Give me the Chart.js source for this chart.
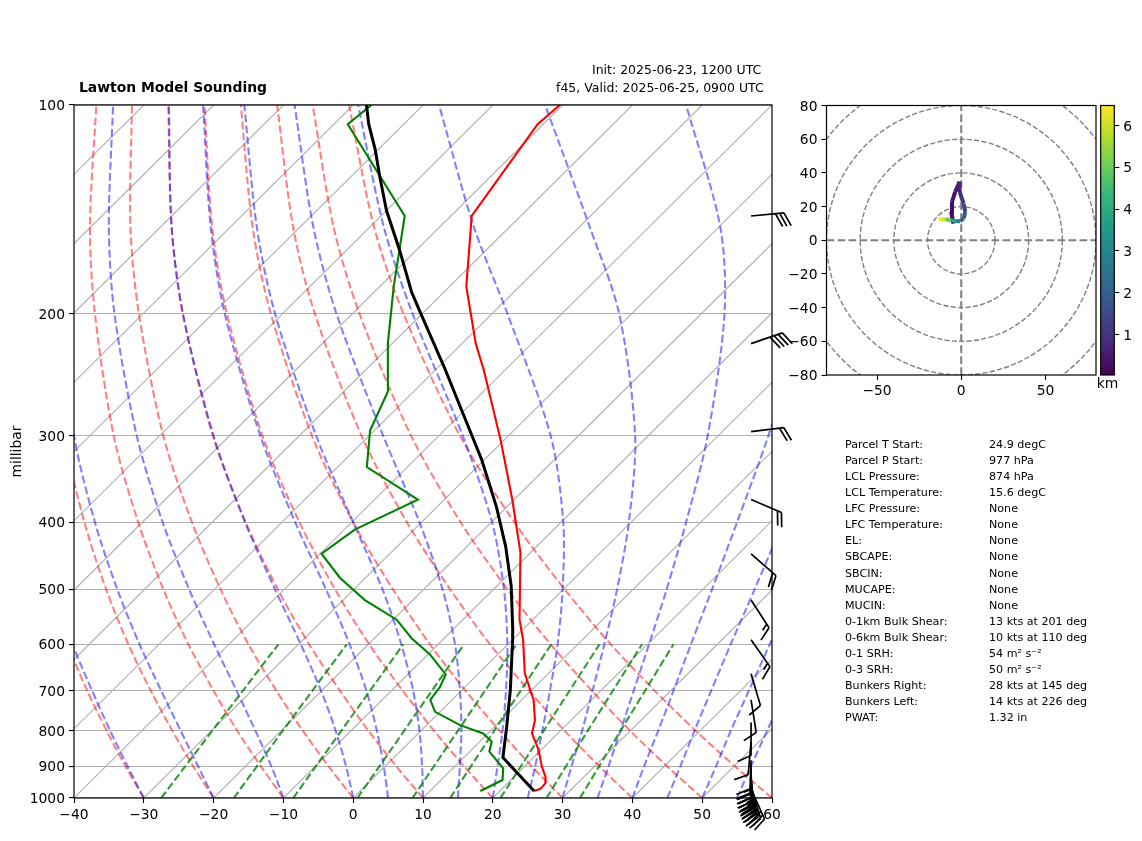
<!DOCTYPE html>
<html>
<head>
<meta charset="utf-8">
<script src="https://cdn.jsdelivr.net/npm/chart.js@4"></script>
<style>
  html, body { margin: 0; background: #fff; }
  body { width: 1142px; height: 841px; position: relative; overflow: hidden; font-family: "DejaVu Sans"; color: #000; }
  canvas { position: absolute; }
  .txt { position: absolute; white-space: pre; line-height: 1; }
</style>
</head>
<body>
<canvas id="skewChart" width="1142" height="841" style="left:0;top:0"></canvas>
<canvas id="hodoChart" width="320" height="310" style="left:780px;top:90px"></canvas>
<canvas id="barChart" width="47" height="300" style="left:1095px;top:95px"></canvas>
<div class="txt" style="left:79px;top:80.5px;font-size:13.89px;font-weight:bold">Lawton Model Sounding</div>
<div class="txt" style="left:592px;top:64px;font-size:12.5px">Init: 2025-06-23, 1200 UTC</div>
<div class="txt" style="left:556px;top:82px;font-size:12.5px">f45, Valid: 2025-06-25, 0900 UTC</div>
<div id="stats"></div>

<script>
// temperature profile, degC at hPa
const tempP = [100, 106.6, 144.6, 182.8, 221, 241, 304, 371.5, 442, 553, 591, 661, 722, 772, 807, 852, 901, 932, 952, 970, 977];
const tempC = [-70.4, -70.8, -67.0, -57.6, -48.0, -43.1, -30.6, -20.2, -11.5, -1.9, 1.5, 6.6, 11.7, 14.8, 16.3, 19.6, 22.5, 24.5, 25.4, 25.5, 24.9];

// dewpoint profile
const dewP = [100, 106.6, 144.6, 182.8, 221, 259, 295, 333, 371, 410, 444, 481, 518, 553, 588, 620, 663, 691, 722, 751, 785, 807, 829, 857, 906, 942, 977];
const dewC = [-97.4, -98.0, -76.6, -68.0, -60.6, -53.7, -50.6, -45.8, -33.8, -38.5, -39.8, -33.7, -26.9, -19.5, -14.7, -9.8, -4.6, -3.6, -3.1, -0.7, 4.8, 9.3, 11.7, 12.8, 17.2, 18.8, 17.2];

// parcel profile
const parcelP = [100, 106.6, 116, 127, 142, 162, 186, 201, 241, 279, 325, 380, 434, 495, 572, 591, 698, 789, 874, 977];
const parcelC = [-98.1, -95.0, -90.4, -85.8, -80.0, -72.4, -64.7, -59.9, -48.6, -39.7, -30.4, -21.5, -14.4, -7.9, -1.4, 0.0, 6.9, 11.7, 15.6, 24.9];

// background lines
const isotherms = [-130, -120, -110, -100, -90, -80, -70, -60, -50, -40, -30, -20, -10, 0, 10, 20, 30, 40, 50, 60];
const adiabatLevels = [1000, 900, 800, 700, 600, 500, 400, 300, 200, 150, 100];
const dryAdiabats = [
  [-30, -37.2, -45.0, -53.6, -63.1, -73.7, -86.0, -100.8, -119.6, -131.7, -147.2],
  [-20, -27.5, -35.6, -44.5, -54.4, -65.5, -78.3, -93.7, -113.3, -125.9, -142.0],
  [-10, -17.8, -26.3, -35.5, -45.8, -57.3, -70.6, -86.6, -106.9, -120.1, -136.8],
  [0, -8.1, -16.9, -26.5, -37.2, -49.1, -62.9, -79.5, -100.6, -114.3, -131.7],
  [10, 1.6, -7.5, -17.4, -28.5, -40.9, -55.2, -72.4, -94.3, -108.4, -126.5],
  [20, 11.3, 1.9, -8.4, -19.9, -32.7, -47.5, -65.3, -88.0, -102.6, -121.3],
  [30, 21.0, 11.3, 0.6, -11.2, -24.4, -39.8, -58.2, -81.7, -96.8, -116.1],
  [40, 30.7, 20.6, 9.7, -2.6, -16.2, -32.1, -51.1, -75.4, -91.0, -110.9],
  [50, 40.4, 30.0, 18.7, 6.1, -8.0, -24.4, -44.0, -69.0, -85.2, -105.8],
  [60, 50.1, 39.4, 27.7, 14.7, 0.2, -16.7, -37.0, -62.7, -79.4, -100.6]
];
const moistAdiabats = [
  [-30, -36.9, -44.5, -52.9, -62.4, -73.0, -85.4, -100.2, -119.1, -131.3, -146.8],
  [-20, -26.8, -34.4, -43.0, -52.8, -63.9, -76.8, -92.3, -112.0, -124.7, -141.0],
  [-10, -16.3, -23.7, -32.2, -42.1, -53.6, -67.1, -83.3, -104.1, -117.4, -134.4],
  [0, -5.6, -12.2, -20.1, -29.7, -41.3, -55.3, -72.3, -94.3, -108.4, -126.4],
  [5, -0.2, -6.3, -13.6, -22.7, -34.0, -48.1, -65.6, -88.3, -102.8, -121.5],
  [10, 5.3, -0.2, -6.9, -15.3, -25.9, -39.8, -57.6, -81.1, -96.2, -115.6],
  [15, 10.7, 5.8, -0.2, -7.6, -17.3, -30.3, -48.0, -72.3, -88.1, -108.4],
  [20, 16.1, 11.7, 6.4, -0.1, -8.5, -19.9, -36.6, -61.4, -78.0, -99.3],
  [25, 21.5, 17.4, 12.7, 7.1, -0.1, -9.7, -24.0, -47.8, -65.1, -87.7],
  [30, 26.7, 23.1, 18.8, 13.8, 7.7, -0.3, -11.9, -31.8, -48.5, -72.5],
  [35, 32.0, 28.6, 24.7, 20.2, 14.8, 7.9, -1.5, -16.7, -29.8, -52.3],
  [40, 37.1, 34.0, 30.4, 26.2, 21.3, 15.2, 7.2, -4.8, -14.2, -30.2],
  [45, 42.3, 39.2, 35.8, 31.9, 27.4, 21.8, 14.6, 4.5, -3.0, -14.3],
  [50, 47.4, 44.4, 41.2, 37.5, 33.1, 27.9, 21.3, 12.0, 5.6, -3.6],
  [55, 52.4, 49.6, 46.4, 42.8, 38.6, 33.6, 27.3, 18.6, 12.7, 4.4],
  [60, 57.5, 54.7, 51.6, 48.0, 43.9, 39.0, 32.9, 24.6, 18.9, 11.1]
];
const mixingLevels = [1000, 800, 600];
const mixingLines = [
  [-27.5, -29.9, -32.9],
  [-17.1, -19.8, -23.1],
  [-8.6, -11.4, -15.0],
  [0.6, -2.4, -6.3],
  [8.5, 5.3, 1.2],
  [13.9, 10.5, 6.2],
  [21.1, 17.6, 13.1],
  [27.7, 23.9, 19.2],
  [32.5, 28.6, 23.7]
];

// axis ticks
const tempTicks = [-40, -30, -20, -10, 0, 10, 20, 30, 40, 50, 60];
const pressTicks = [100, 200, 300, 400, 500, 600, 700, 800, 900, 1000];

// wind barbs
const windP = [144.6, 221, 296, 371, 444.5, 518, 591, 662, 722, 778, 830, 882, 896, 908, 920, 930, 939, 948, 958, 964, 970];
const windDir = [84.5, 71, 83, 113, 131, 147, 145, 163.5, 171, 180, 185, 182, 181, 180, 178, 176, 174, 172, 168, 163, 156];
const windKts = [30, 40, 20, 20, 20, 15, 15, 10, 10, 10, 10, 20, 25, 30, 30, 30, 35, 35, 35, 30, 30];
const windAxisX = 57;

// hodograph
const hodoU = [-4.6, -6.0, -5.5, -3.6, -1.0, -1.0, 1.4, 2.4, 1.4, -0.6, -3.6, -6.5, -9.5, -11.5, -13.5];
const hodoV = [9.9, 16.8, 22.8, 28.7, 34.7, 28.7, 21.8, 16.8, 12.9, 11.3, 11.5, 11.9, 12.5, 12.5, 12.5];
const hodoKm = [0.03, 0.15, 0.25, 0.35, 0.5, 0.7, 1.0, 1.3, 1.7, 2.2, 3.0, 3.8, 5.0, 6.0, 6.48];
const ringRadii = [20, 40, 60, 80, 100];
const hodoTicksX = [-50, 0, 50];
const hodoTicksY = [-80, -60, -40, -20, 0, 20, 40, 60, 80];
const barTicks = [1, 2, 3, 4, 5, 6];
const kmMin = 0.03, kmMax = 6.48;
const viridis = ['#440154', '#482878', '#3e4989', '#31688e', '#26828e', '#1f9e89', '#35b779', '#6ece58', '#b5de2b', '#fde725'];

// stats table
const statLabels = ['Parcel T Start:', 'Parcel P Start:', 'LCL Pressure:', 'LCL Temperature:', 'LFC Pressure:', 'LFC Temperature:', 'EL:', 'SBCAPE:', 'SBCIN:', 'MUCAPE:', 'MUCIN:', '0-1km Bulk Shear:', '0-6km Bulk Shear:', '0-1 SRH:', '0-3 SRH:', 'Bunkers Right:', 'Bunkers Left:', 'PWAT:'];
const statValues = ['24.9 degC', '977 hPa', '874 hPa', '15.6 degC', 'None', 'None', 'None', 'None', 'None', 'None', 'None', '13 kts at 201 deg', '10 kts at 110 deg', '54 m\u00b2 s\u207b\u00b2', '50 m\u00b2 s\u207b\u00b2', '28 kts at 145 deg', '14 kts at 226 deg', '1.32 in'];

const statsBox = document.getElementById('stats');
statLabels.forEach((label, i) => {
  const top = 439 + i * 16.07;
  statsBox.insertAdjacentHTML('beforeend',
    `<div class="txt" style="left:845px;top:${top}px;font-size:11.11px">${label}</div>` +
    `<div class="txt" style="left:989px;top:${top}px;font-size:11.11px">${statValues[i]}</div>`);
});

Chart.defaults.font.family = '"DejaVu Sans"';
Chart.defaults.font.size = 13.89;
Chart.defaults.color = '#000';
Chart.defaults.animation = false;

// 45 degree skew: one decade of pressure shifts x by 100 degC
const skewX = (t, p) => t + 100 * Math.log10(1000 / p);
const minusSign = v => String(v).replace('-', '\u2212');
const profilePoints = (temps, levels) => temps.map((t, i) => ({ x: skewX(t, levels[i]), y: levels[i] }));

function line(data, color, width, dash, tension) {
  return { data, borderColor: color, borderWidth: width, borderDash: dash || [], tension: tension || 0, showLine: true, pointRadius: 0, borderJoinStyle: 'miter' };
}

const skewSets = [
  line(profilePoints(parcelC, parcelP), '#000', 3),
  line(profilePoints(tempC, tempP), '#f00', 2.1),
  line(profilePoints(dewC, dewP), '#008000', 2.1),
  ...mixingLines.map(r => line(profilePoints(r, mixingLevels), 'rgba(0,128,0,0.8)', 2.08, [7.7, 3.3])),
  ...moistAdiabats.map(r => line(profilePoints(r, adiabatLevels), 'rgba(0,0,255,0.5)', 2.08, [7.7, 3.3], 0.3)),
  ...dryAdiabats.map(r => line(profilePoints(r, adiabatLevels), 'rgba(255,0,0,0.5)', 2.08, [7.7, 3.3], 0.3)),
  ...isotherms.map(t => line(profilePoints([t, t], [1000, 100]), '#b0b0b0', 1.1))
];

const frame = {
  id: 'frame',
  afterDatasetsDraw(chart) {
    const a = chart.chartArea, c = chart.ctx;
    c.save();
    c.strokeStyle = '#000';
    c.lineWidth = 1.2;
    c.strokeRect(a.left, a.top, a.right - a.left, a.bottom - a.top);
    c.restore();
  }
};

const barbs = {
  id: 'barbs',
  afterDraw(chart) {
    const c = chart.ctx, sx = chart.scales.x, sy = chart.scales.y;
    const staff = 33, along = 6, across = 13.5, gap = 4.3;
    c.save();
    c.strokeStyle = '#000';
    c.lineWidth = 1.7;
    windP.forEach((p, i) => {
      const rad = windDir[i] * Math.PI / 180;
      const ex = Math.sin(rad), ey = -Math.cos(rad);
      const nx = -ey, ny = ex;
      const tipX = sx.getPixelForValue(windAxisX), tipY = sy.getPixelForValue(p);
      let px = tipX + ex * staff, py = tipY + ey * staff;
      c.beginPath();
      c.moveTo(tipX, tipY);
      c.lineTo(px, py);
      let left = windKts[i];
      while (left >= 5) {
        const k = left >= 10 ? 1 : 0.5;
        c.moveTo(px, py);
        c.lineTo(px + (nx * across + ex * along) * k, py + (ny * across + ey * along) * k);
        px -= ex * gap;
        py -= ey * gap;
        left -= k * 10;
      }
      c.stroke();
    });
    c.restore();
  }
};

new Chart(document.getElementById('skewChart'), {
  type: 'scatter',
  data: { datasets: skewSets },
  options: {
    responsive: false,
    devicePixelRatio: 1,
    layout: { padding: { top: 105, right: 370, left: 0, bottom: 0 } },
    plugins: { legend: { display: false }, tooltip: { enabled: false } },
    scales: {
      x: {
        type: 'linear', min: -40, max: 60,
        afterFit: s => { s.height = 43; },
        afterBuildTicks: s => { s.ticks = tempTicks.map(value => ({ value })); },
        grid: { drawOnChartArea: false, tickColor: '#000', tickLength: 5, tickWidth: 1.1 },
        border: { display: false },
        ticks: { padding: 4, maxRotation: 0, autoSkip: false, callback: minusSign }
      },
      y: {
        type: 'logarithmic', min: 100, max: 1000, reverse: true,
        afterFit: s => { s.width = 74; },
        afterBuildTicks: s => { s.ticks = pressTicks.map(value => ({ value })); },
        grid: { color: '#b0b0b0', lineWidth: 1.1, tickColor: '#000', tickLength: 5, tickWidth: 1.1 },
        border: { display: false },
        ticks: { padding: 4, labelOffset: 1.5, autoSkip: false, callback: v => String(v) },
        title: { display: true, text: 'millibar', padding: { top: 9, bottom: 0 } }
      }
    }
  },
  plugins: [frame, barbs]
});

function kmColor(km) {
  const t = Math.min(1, Math.max(0, (km - kmMin) / (kmMax - kmMin))) * (viridis.length - 1);
  const i = Math.min(viridis.length - 2, Math.floor(t));
  const mix = (a, b, f) => Math.round(a + (b - a) * f);
  const rgb = h => [1, 3, 5].map(k => parseInt(h.substr(k, 2), 16));
  const a = rgb(viridis[i]), b = rgb(viridis[i + 1]);
  return `rgb(${mix(a[0], b[0], t - i)},${mix(a[1], b[1], t - i)},${mix(a[2], b[2], t - i)})`;
}

const rings = {
  id: 'rings',
  beforeDatasetsDraw(chart) {
    const c = chart.ctx, a = chart.chartArea, sx = chart.scales.x, sy = chart.scales.y;
    c.save();
    c.beginPath();
    c.rect(a.left, a.top, a.right - a.left, a.bottom - a.top);
    c.clip();
    c.strokeStyle = '#808080';
    c.lineWidth = 1.4;
    c.setLineDash([5.2, 2.2]);
    ringRadii.forEach(r => {
      c.beginPath();
      c.arc(sx.getPixelForValue(0), sy.getPixelForValue(0), sx.getPixelForValue(r) - sx.getPixelForValue(0), 0, Math.PI * 2);
      c.stroke();
    });
    c.restore();
  }
};

new Chart(document.getElementById('hodoChart'), {
  type: 'scatter',
  data: {
    datasets: [
      {
        data: hodoU.map((u, i) => ({ x: u, y: hodoV[i] })),
        showLine: true, pointRadius: 0, borderWidth: 4, borderCapStyle: 'butt',
        segment: { borderColor: ctx => kmColor(hodoKm[ctx.p1DataIndex]) },
        order: 0
      },
      Object.assign(line([{ x: -80, y: 0 }, { x: 80, y: 0 }], '#808080', 2.08, [7.7, 3.3]), { order: 1 }),
      Object.assign(line([{ x: 0, y: -80 }, { x: 0, y: 80 }], '#808080', 2.08, [7.7, 3.3]), { order: 1 })
    ]
  },
  options: {
    responsive: false,
    devicePixelRatio: 1,
    layout: { padding: { top: 15.5, right: 4, left: 0, bottom: 0 } },
    plugins: { legend: { display: false }, tooltip: { enabled: false } },
    scales: {
      x: {
        type: 'linear', min: -80, max: 80,
        afterFit: s => { s.height = 25; },
        afterBuildTicks: s => { s.ticks = hodoTicksX.map(value => ({ value })); },
        grid: { drawOnChartArea: false, tickColor: '#000', tickLength: 5, tickWidth: 1.1 },
        border: { display: false },
        ticks: { padding: 3, maxRotation: 0, autoSkip: false, callback: minusSign }
      },
      y: {
        type: 'linear', min: -80, max: 80,
        afterFit: s => { s.width = 46.5; },
        afterBuildTicks: s => { s.ticks = hodoTicksY.map(value => ({ value })); },
        grid: { drawOnChartArea: false, tickColor: '#000', tickLength: 5, tickWidth: 1.1 },
        border: { display: false },
        ticks: { padding: 4, labelOffset: 1.5, autoSkip: false, callback: minusSign }
      }
    }
  },
  plugins: [frame, rings]
});

new Chart(document.getElementById('barChart'), {
  type: 'bar',
  data: {
    labels: ['km'],
    datasets: [{
      data: [[kmMin, kmMax]],
      barPercentage: 1,
      categoryPercentage: 1,
      backgroundColor: ctx => {
        const a = ctx.chart.chartArea;
        if (!a) return viridis[0];
        const g = ctx.chart.ctx.createLinearGradient(0, a.bottom, 0, a.top);
        viridis.forEach((col, i) => g.addColorStop(i / (viridis.length - 1), col));
        return g;
      }
    }]
  },
  options: {
    responsive: false,
    devicePixelRatio: 1,
    layout: { padding: { top: 10.5, left: 5.7, right: 0, bottom: 0 } },
    plugins: { legend: { display: false }, tooltip: { enabled: false } },
    scales: {
      x: {
        afterFit: s => { s.height = 20; s.paddingLeft = 0; s.paddingRight = 0; },
        grid: { display: false, drawTicks: false },
        border: { display: false },
        ticks: { padding: 1, maxRotation: 0 }
      },
      y: {
        position: 'right',
        min: kmMin, max: kmMax,
        afterFit: s => { s.width = 27.7; s.paddingTop = 0; s.paddingBottom = 0; },
        afterBuildTicks: s => { s.ticks = barTicks.map(value => ({ value })); },
        grid: { drawOnChartArea: false, tickColor: '#000', tickLength: 5, tickWidth: 1.1 },
        border: { display: false },
        ticks: { padding: 4, labelOffset: 1.5, autoSkip: false }
      }
    }
  },
  plugins: [frame]
});
</script>
</body>
</html>
